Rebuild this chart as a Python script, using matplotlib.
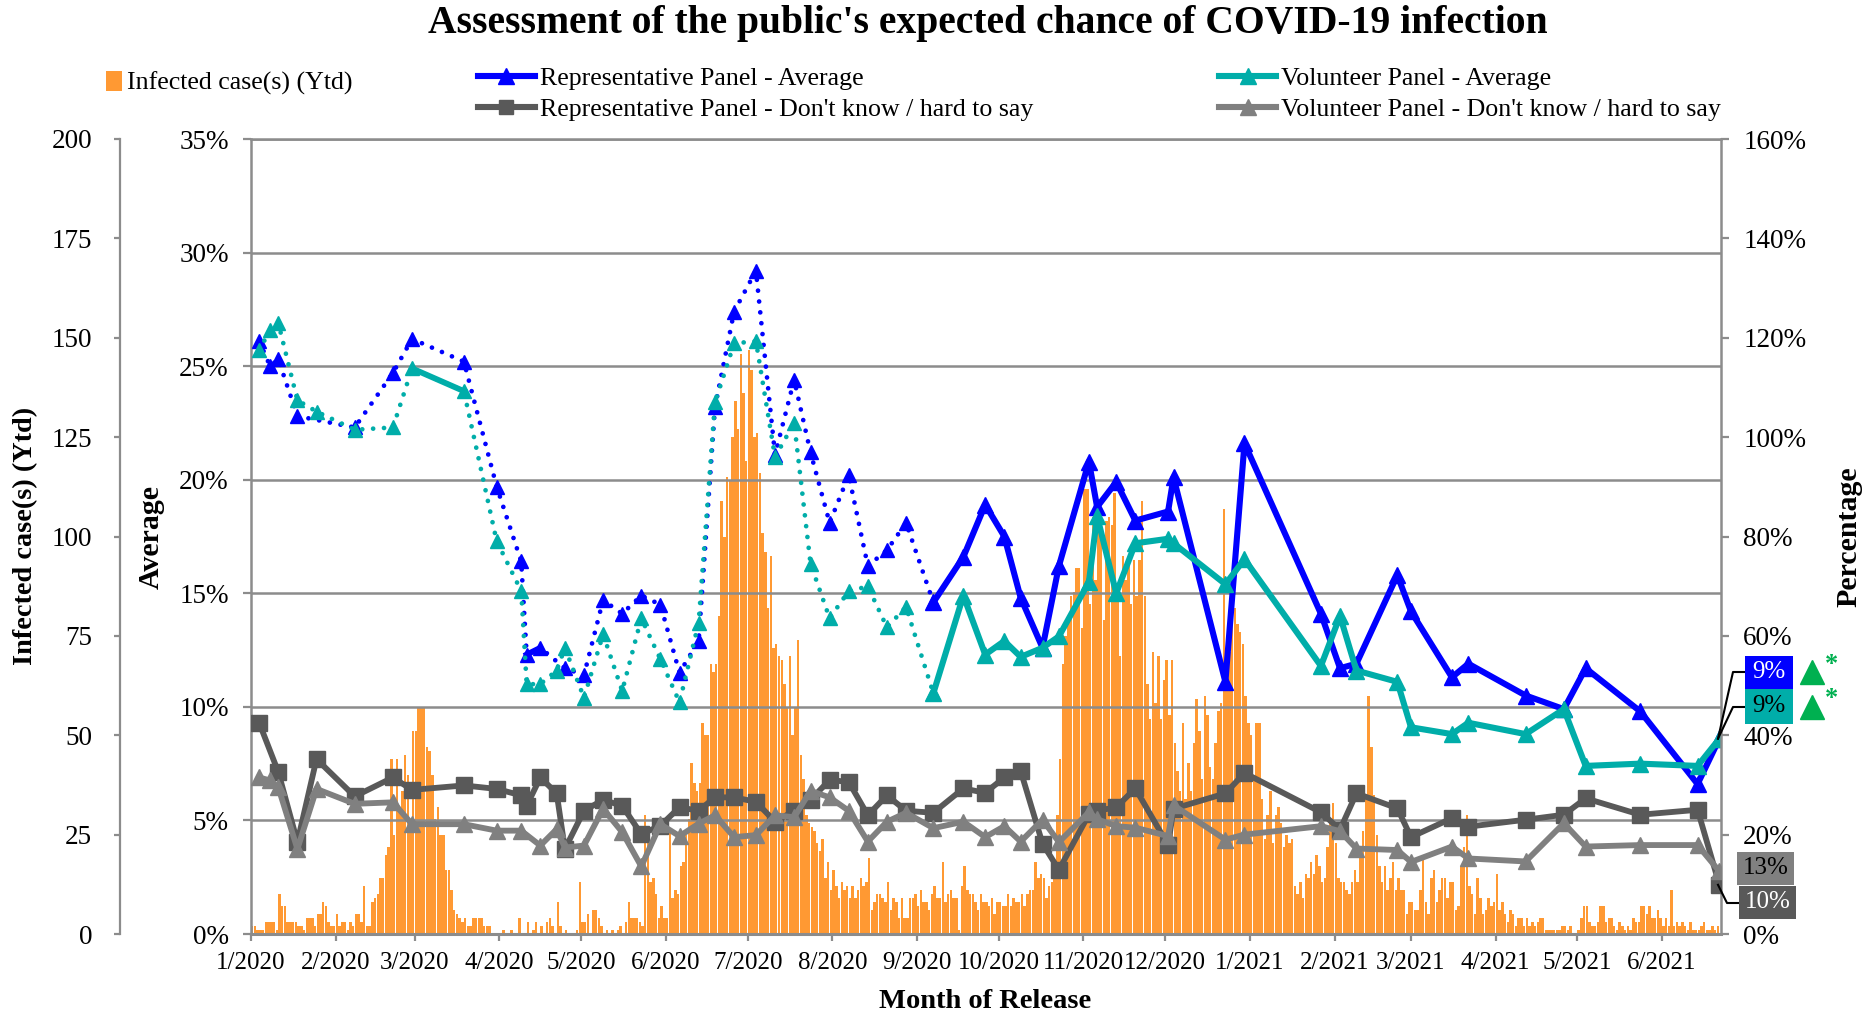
"""Expected chance of COVID-19 infection: survey averages, don't-know shares and daily cases."""

import matplotlib
matplotlib.use("Agg")
import matplotlib.pyplot as plt
import matplotlib.dates as mdates
import pandas as pd
from matplotlib.lines import Line2D
from matplotlib.patches import Patch, Rectangle
from matplotlib.ticker import FuncFormatter, MultipleLocator

plt.rcParams["font.family"] = ["Liberation Serif", "DejaVu Serif"]

# --- Data ---

SURVEY_DATES = [
    "2020-01-04", "2020-01-08", "2020-01-11", "2020-01-18", "2020-01-25",
    "2020-02-08", "2020-02-22", "2020-02-29", "2020-03-19", "2020-03-31",
    "2020-04-09", "2020-04-11", "2020-04-16", "2020-04-22", "2020-04-25",
    "2020-05-02", "2020-05-09", "2020-05-16", "2020-05-23", "2020-05-30",
    "2020-06-06", "2020-06-13", "2020-06-19", "2020-06-26", "2020-07-04",
    "2020-07-11", "2020-07-18", "2020-07-24", "2020-07-31", "2020-08-07",
    "2020-08-14", "2020-08-21", "2020-08-28", "2020-09-07", "2020-09-18",
    "2020-09-26", "2020-10-03", "2020-10-09", "2020-10-17", "2020-10-23",
    "2020-11-03", "2020-11-06", "2020-11-13", "2020-11-20", "2020-12-02",
    "2020-12-04", "2020-12-23", "2020-12-30", "2021-01-27", "2021-02-03",
    "2021-02-09", "2021-02-24", "2021-03-01", "2021-03-16", "2021-03-22",
    "2021-04-12", "2021-04-26", "2021-05-04", "2021-05-24", "2021-06-14",
    "2021-06-22",
]

# Average expected chance (%), left inner axis
REP_AVG = [
    26.1, 25.0, 25.3, 22.8, None, 22.3, 24.7, 26.2, 25.2, 19.7,
    16.4, 12.3, 12.6, None, 11.7, 11.4, 14.7, 14.1, 14.9, 14.5,
    11.5, 12.9, 23.2, 27.4, 29.2, 21.1, 24.4, 21.2, 18.1, 20.2,
    16.2, 16.9, 18.1, 14.6, 16.6, 18.9, 17.5, 14.8, 12.6, 16.2,
    20.8, 18.8, 19.9, 18.2, 18.6, 20.1, 11.1, 21.6, 14.1, 11.7,
    11.9, 15.8, 14.2, 11.3, 11.9, 10.5, 9.9, 11.7, 9.8, 6.6,
    8.6,
]
VOL_AVG = [
    25.7, 26.6, 26.9, 23.5, 23.0, 22.2, 22.3, 24.9, 23.9, 17.3,
    15.1, 11.0, 11.0, 11.6, 12.6, 10.4, 13.2, 10.7, 13.9, 12.1,
    10.2, 13.7, 23.4, 26.0, 26.1, 21.0, 22.5, 16.3, 13.9, 15.1,
    15.3, 13.5, 14.4, 10.6, 14.9, 12.3, 12.9, 12.2, 12.6, 13.1,
    15.5, 18.4, 15.0, 17.2, 17.4, 17.2, 15.4, 16.5, 11.8, 14.0,
    11.6, 11.1, 9.1, 8.8, 9.3, 8.8, 9.9, 7.4, 7.5, 7.4,
    8.6,
]

# "Don't know / hard to say" share (%), right axis
REP_DK = [
    42.5, None, 32.6, 18.5, 35.2, 27.7, 31.5, 29.0, 29.9, 29.2,
    27.9, 25.8, 31.5, 28.3, 17.1, 24.8, 27.0, 25.8, 20.1, 21.8,
    25.5, 24.8, 27.5, 27.5, 26.6, 22.6, 24.8, 27.0, 31.0, 30.6,
    23.9, 27.9, 24.8, 24.4, 29.3, 28.4, 31.5, 32.8, 18.2, 12.9,
    24.1, 24.8, 25.5, 29.3, 17.9, 25.2, 28.3, 32.4, 24.5, 21.0,
    28.3, 25.3, 19.5, 23.3, 21.6, 23.0, 24.0, 27.3, 24.0, 25.0,
    9.9,
]
VOL_DK = [
    31.5, 30.9, 29.5, 17.1, 29.2, 26.2, 26.5, 22.1, 22.1, 20.8,
    20.8, None, 17.8, 21.1, 17.4, 17.8, 25.2, 20.5, 13.6, 22.1,
    19.7, 22.2, 23.9, 19.5, 19.9, 23.9, 23.5, 28.8, 27.5, 24.8,
    18.6, 22.6, 24.4, 21.3, 22.6, 19.5, 21.7, 18.6, 23.0, 18.5,
    24.5, 23.1, 21.7, 21.4, 19.7, 25.9, 19.0, 20.0, 21.7, 20.7,
    17.2, 16.9, 14.5, 17.6, 15.2, 14.6, 22.3, 17.6, 17.9, 17.9,
    12.6,
]

# Average lines are dotted up to this release, solid afterwards
DOTTED_UNTIL = "2020-09-07"
REP_SOLID_SPANS = [("2020-04-11", "2020-04-16")]
VOL_SOLID_SPANS = [("2020-02-29", "2020-03-19")]

# Daily infected cases, starting 2020-01-01
CASES_START = "2020-01-01"
DAILY_CASES = [
    2, 2, 1, 1, 1, 3, 3, 3, 3, 1,
    10, 7, 7, 3, 3, 3, 3, 2, 2, 1,
    4, 4, 4, 2, 5, 5, 8, 7, 3, 2,
    2, 5, 2, 3, 3, 1, 3, 2, 5, 5,
    3, 12, 2, 2, 8, 9, 10, 14, 14, 20,
    22, 44, 25, 44, 32, 36, 45, 40, 29, 51,
    51, 57, 57, 57, 47, 46, 40, 29, 32, 25,
    25, 16, 16, 11, 6, 5, 4, 3, 4, 2,
    2, 4, 4, 4, 4, 2, 2, 2, 0, 0,
    0, 0, 1, 0, 0, 1, 0, 0, 4, 0,
    0, 3, 0, 1, 3, 0, 2, 0, 3, 4,
    2, 0, 8, 2, 0, 1, 0, 0, 0, 1,
    13, 3, 3, 5, 0, 6, 6, 4, 2, 0,
    1, 0, 1, 0, 1, 2, 0, 3, 8, 4,
    4, 4, 3, 2, 30, 27, 13, 14, 10, 4,
    7, 4, 4, 26, 9, 11, 10, 17, 18, 25,
    29, 43, 38, 36, 38, 53, 50, 50, 68, 66,
    68, 80, 109, 100, 115, 114, 125, 134, 127, 146,
    136, 119, 147, 142, 125, 126, 116, 101, 96, 82,
    95, 72, 73, 70, 69, 63, 57, 70, 50, 57,
    74, 45, 39, 30, 28, 27, 26, 23, 21, 24,
    14, 18, 11, 16, 12, 9, 13, 11, 12, 9,
    12, 9, 11, 14, 12, 13, 19, 6, 8, 10,
    10, 9, 8, 13, 6, 9, 8, 4, 9, 4,
    4, 9, 9, 10, 7, 11, 8, 8, 6, 10,
    12, 9, 9, 18, 8, 10, 11, 9, 9, 1,
    12, 17, 11, 10, 10, 8, 6, 10, 8, 8,
    7, 9, 5, 8, 8, 7, 7, 10, 7, 9,
    8, 8, 10, 7, 10, 11, 11, 18, 14, 15,
    14, 9, 12, 13, 14, 30, 44, 68, 75, 80,
    85, 86, 92, 92, 77, 112, 112, 83, 105, 89,
    101, 107, 79, 104, 105, 103, 111, 88, 70, 95,
    89, 93, 83, 94, 85, 94, 109, 85, 63, 54,
    71, 58, 70, 54, 64, 69, 55, 69, 48, 41,
    36, 53, 34, 43, 36, 48, 59, 51, 39, 60,
    55, 42, 39, 48, 56, 58, 107, 66, 71, 80,
    82, 78, 76, 73, 60, 53, 50, 39, 53, 53,
    34, 24, 30, 36, 23, 30, 32, 28, 22, 25,
    23, 24, 12, 10, 13, 9, 15, 14, 18, 15,
    20, 17, 13, 14, 22, 28, 33, 23, 14, 13,
    13, 11, 10, 13, 16, 13, 19, 26, 35, 60,
    47, 35, 25, 17, 13, 17, 11, 14, 18, 11,
    14, 11, 11, 5, 8, 8, 6, 6, 11, 19,
    8, 5, 14, 16, 8, 11, 14, 14, 9, 13,
    13, 6, 7, 17, 22, 30, 12, 10, 5, 14,
    9, 5, 6, 9, 7, 8, 15, 6, 8, 5,
    3, 6, 5, 2, 4, 4, 2, 4, 2, 3,
    2, 3, 4, 4, 1, 1, 1, 1, 1, 1,
    2, 2, 1, 2, 0, 0, 1, 4, 7, 7,
    3, 2, 2, 3, 7, 7, 3, 4, 4, 2,
    1, 3, 2, 1, 2, 1, 4, 3, 3, 7,
    7, 5, 7, 4, 4, 6, 4, 2, 4, 2,
    11, 2, 3, 2, 3, 2, 1, 3, 1, 1,
    1, 2, 3, 1, 1, 2, 1, 2,
]

X_START = "2020-01-01"
X_END = "2021-06-22 14:00"

BLUE = "#0000FF"
TEAL = "#00ADA9"
DARK_GREY = "#595959"
GREY = "#808080"
ORANGE = "#FF9933"
GREEN = "#00B050"
AXIS_GREY = "#8C8C8C"

W, H = 1876, 1018


def px(x):
    return x / W


def py(y):
    return 1 - y / H


def _series(values):
    return pd.Series(values, index=pd.to_datetime(SURVEY_DATES), dtype=float).dropna()


def draw_avg(ax, values, color, solid_spans):
    s = _series(values)
    cut = pd.Timestamp(DOTTED_UNTIL)
    dotted = s[s.index <= cut]
    solid = s[s.index >= cut]
    ax.plot(dotted.index, dotted.values, color=color, lw=3.4,
            ls=(0, (0.01, 2.3)), dash_capstyle="round",
            marker="^", ms=10, mec=color, zorder=4)
    for a, b in solid_spans:
        seg = s[(s.index >= a) & (s.index <= b)]
        ax.plot(seg.index, seg.values, color=color, lw=4.2, zorder=4)
    ax.plot(solid.index, solid.values, color=color, lw=4.4,
            marker="^", ms=12, zorder=5)


def draw_dk(ax, values, color, marker):
    s = _series(values)
    ax.plot(s.index, s.values, color=color, lw=4.2, marker=marker,
            ms=11 if marker == "s" else 12, zorder=4)


fig = plt.figure(figsize=(W / 100, H / 100), dpi=100)
ax_cases = fig.add_axes([px(251), py(934), px(1721) - px(251), py(139) - py(934)])
ax_avg = ax_cases.twinx()
ax_pct = ax_cases.twinx()

# --- bars (outer left axis) ---
case_days = pd.date_range(CASES_START, periods=len(DAILY_CASES), freq="D")
ax_cases.bar(case_days, DAILY_CASES, width=0.9, align="edge",
             color=ORANGE, linewidth=0, zorder=1)
ax_cases.set_ylim(0, 200)
ax_cases.yaxis.set_major_locator(MultipleLocator(25))
ax_cases.yaxis.tick_left()
ax_cases.spines["left"].set_position(("axes", (120 - 251) / (1721 - 251)))
for side in ("right", "top"):
    ax_cases.spines[side].set_visible(False)
ax_cases.spines["left"].set_color(AXIS_GREY)
ax_cases.spines["left"].set_linewidth(1.6)
ax_cases.spines["bottom"].set_color(AXIS_GREY)
ax_cases.spines["bottom"].set_linewidth(2.2)
ax_cases.tick_params(axis="y", direction="out", length=4, width=1.6,
                     color=AXIS_GREY, labelsize=19.5, pad=16)

ax_cases.set_xlim(pd.Timestamp(X_START), pd.Timestamp(X_END))
ax_cases.xaxis.set_major_locator(mdates.MonthLocator())
ax_cases.xaxis.set_major_formatter(FuncFormatter(
    lambda v, pos: f"{mdates.num2date(v).month}/{mdates.num2date(v).year}"))
ax_cases.tick_params(axis="x", direction="out", length=5, width=1.6,
                     color=AXIS_GREY, labelsize=18, pad=8)

# --- averages (inner left axis) ---
ax_avg.yaxis.tick_left()
ax_avg.set_ylim(0, 35)
ax_avg.yaxis.set_major_locator(MultipleLocator(5))
ax_avg.yaxis.set_major_formatter(FuncFormatter(lambda v, pos: f"{v:.0f}%"))
ax_avg.tick_params(axis="y", direction="out", length=6, width=1.6,
                   color=AXIS_GREY, labelsize=19.5, pad=10)
ax_avg.grid(axis="y", color=AXIS_GREY, lw=1.8)
ax_avg.set_axisbelow(True)
for side in ("right", "bottom"):
    ax_avg.spines[side].set_visible(False)
for side in ("left", "top"):
    ax_avg.spines[side].set_color(AXIS_GREY)
    ax_avg.spines[side].set_linewidth(1.8)
draw_avg(ax_avg, REP_AVG, BLUE, REP_SOLID_SPANS)
draw_avg(ax_avg, VOL_AVG, TEAL, VOL_SOLID_SPANS)

# --- don't know (right axis) ---
ax_pct.set_ylim(0, 160)
ax_pct.yaxis.set_major_locator(MultipleLocator(20))
ax_pct.yaxis.set_major_formatter(FuncFormatter(lambda v, pos: f"{v:.0f}%"))
ax_pct.tick_params(axis="y", direction="out", length=6, width=1.6,
                   color=AXIS_GREY, labelsize=19.5, pad=10)
for side in ("left", "top", "bottom"):
    ax_pct.spines[side].set_visible(False)
ax_pct.spines["right"].set_color(AXIS_GREY)
ax_pct.spines["right"].set_linewidth(1.8)
draw_dk(ax_pct, REP_DK, DARK_GREY, "s")
draw_dk(ax_pct, VOL_DK, GREY, "^")

# --- titles and axis labels ---
fig.text(px(988), py(23), "Assessment of the public's expected chance of COVID-19 infection",
         ha="center", va="center", fontsize=28.5, fontweight="bold")
fig.text(px(26), py(536), "Infected case(s) (Ytd)", rotation=90,
         ha="center", va="center", fontsize=20.3, fontweight="bold")
fig.text(px(151), py(537), "Average", rotation=90,
         ha="center", va="center", fontsize=21.5, fontweight="bold")
fig.text(px(1849), py(537), "Percentage", rotation=90,
         ha="center", va="center", fontsize=21.5, fontweight="bold")
fig.text(px(985), py(1002), "Month of Release",
         ha="center", va="center", fontsize=20.5, fontweight="bold")

# --- legends ---
fig.legend(handles=[Patch(facecolor=ORANGE)], labels=["Infected case(s) (Ytd)"],
           loc="center left", bbox_to_anchor=(px(106), py(83)), frameon=False,
           fontsize=18.6, handlelength=0.62, handleheight=0.85, handletextpad=0.2,
           borderpad=0, borderaxespad=0)
line_handles = [
    Line2D([], [], color=BLUE, lw=4.4, marker="^", ms=11),
    Line2D([], [], color=DARK_GREY, lw=4.4, marker="s", ms=10),
    Line2D([], [], color=TEAL, lw=4.4, marker="^", ms=11),
    Line2D([], [], color=GREY, lw=4.4, marker="^", ms=11),
]
line_labels = [
    "Representative Panel - Average",
    "Representative Panel - Don't know / hard to say",
    "Volunteer Panel - Average",
    "Volunteer Panel - Don't know / hard to say",
]
fig.legend(handles=line_handles, labels=line_labels, ncol=2,
           loc="center left", bbox_to_anchor=(px(478), py(94)), frameon=False,
           fontsize=18.6, handlelength=2.2, handletextpad=0.2,
           columnspacing=7.2, labelspacing=0.28, borderpad=0, borderaxespad=0)

# --- end-of-series labels at the right ---
end_x = 1718
boxes = [
    # (value, box colour, text colour, box top, box bottom, axis, elbow y, box left)
    (REP_AVG[-1], BLUE, "white", 656, 689, "avg", 672, 1745),
    (VOL_AVG[-1], TEAL, "black", 689, 724, "avg", 707, 1745),
    (VOL_DK[-1], GREY, "black", 852, 885, "pct", None, 1737),
    (REP_DK[-1], DARK_GREY, "white", 886, 919, "pct", 903, 1739),
]
for value, color, tcolor, top, bottom, axis, elbow, left in boxes:
    right = left + 57 if axis == "pct" else left + 48
    fig.patches.append(Rectangle((px(left), py(bottom)), px(right) - px(left),
                                 py(top) - py(bottom), transform=fig.transFigure,
                                 facecolor=color, edgecolor="none", zorder=6))
    fig.text(px((left + right) / 2), py((top + bottom) / 2), f"{int(value + 0.5)}%",
             ha="center", va="center", fontsize=18, color=tcolor, zorder=7)
    if elbow is None:
        continue
    if axis == "avg":
        ymark = 934 - value / 35 * 795
        fig.lines.append(Line2D([px(end_x), px(1733), px(left)],
                                [py(ymark), py(elbow), py(elbow)],
                                transform=fig.transFigure, color="black", lw=1.5))
        fig.lines.append(Line2D([px(1812)], [py(elbow)], transform=fig.transFigure,
                                marker="^", ms=17, color=GREEN, ls="none"))
        fig.text(px(1832), py(elbow - 8), "*", ha="center", va="center",
                 fontsize=19, color=GREEN, fontweight="bold")
    else:
        ymark = 934 - value / 160 * 795
        fig.lines.append(Line2D([px(end_x), px(1727), px(left)],
                                [py(ymark), py(elbow), py(elbow)],
                                transform=fig.transFigure, color="black", lw=1.5))

fig.savefig("out.png", dpi=100)
